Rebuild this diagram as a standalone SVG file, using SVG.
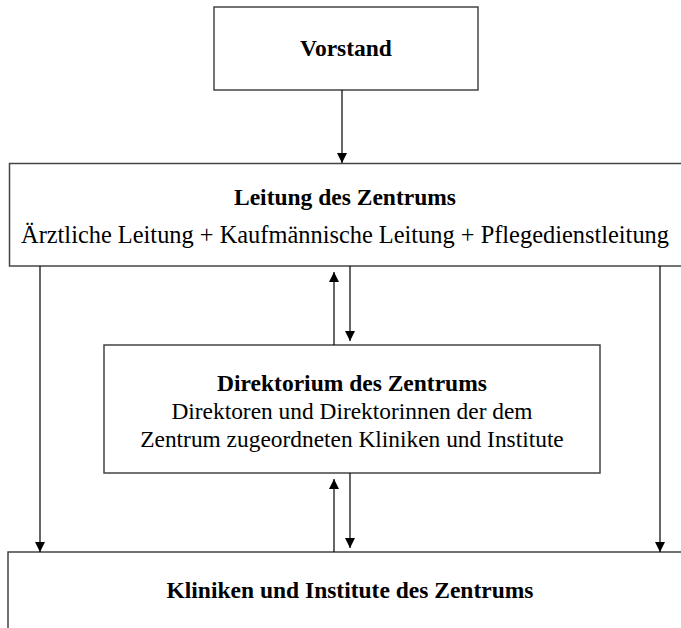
<svg xmlns="http://www.w3.org/2000/svg" width="681" height="628" viewBox="0 0 681 628">
<style>
.box{fill:#fff;stroke:#444;stroke-width:1.5}
.t{font-family:"Liberation Serif","Times New Roman",serif;font-size:23.5px;fill:#000;text-anchor:middle}
.b{font-weight:bold}
.s{font-size:24.4px}
.d{font-size:23.4px}
.c{stroke:#000;stroke-width:1.2;fill:none;marker-end:url(#ah)}
</style>
<defs>
<marker id="ah" viewBox="0 0 10 10" refX="10" refY="5" markerWidth="10" markerHeight="10" markerUnits="userSpaceOnUse" orient="auto">
<path d="M0,0 L10,5 L0,10 z" fill="#000"/>
</marker>
</defs>
<g id="vorstand">
<rect class="box" x="214" y="7" width="264" height="83"/>
<text class="t b" x="346" y="56">Vorstand</text>
</g>
<g id="leitung">
<rect class="box" x="9.5" y="163.5" width="700" height="102.5"/>
<text class="t b" x="345" y="205">Leitung des Zentrums</text>
<text class="t s" x="345" y="243">Ärztliche Leitung + Kaufmännische Leitung + Pflegedienstleitung</text>
</g>
<g id="direktorium">
<rect class="box" x="104" y="345" width="496" height="128"/>
<text class="t b" x="352" y="391">Direktorium des Zentrums</text>
<text class="t d" x="352" y="419">Direktoren und Direktorinnen der dem</text>
<text class="t d" x="352" y="447">Zentrum zugeordneten Kliniken und Institute</text>
</g>
<g id="kliniken">
<rect class="box" x="8" y="552" width="700" height="100"/>
<text class="t b" x="350" y="598">Kliniken und Institute des Zentrums</text>
</g>
<g id="connectors">
<line class="c" x1="342" y1="90" x2="342" y2="163"/>
<line class="c" x1="334" y1="345" x2="334" y2="272"/>
<line class="c" x1="350" y1="266" x2="350" y2="341"/>
<line class="c" x1="334" y1="552" x2="334" y2="479"/>
<line class="c" x1="350" y1="473" x2="350" y2="548"/>
<line class="c" x1="40" y1="266" x2="40" y2="552"/>
<line class="c" x1="660" y1="266" x2="660" y2="552"/>
</g>
</svg>
